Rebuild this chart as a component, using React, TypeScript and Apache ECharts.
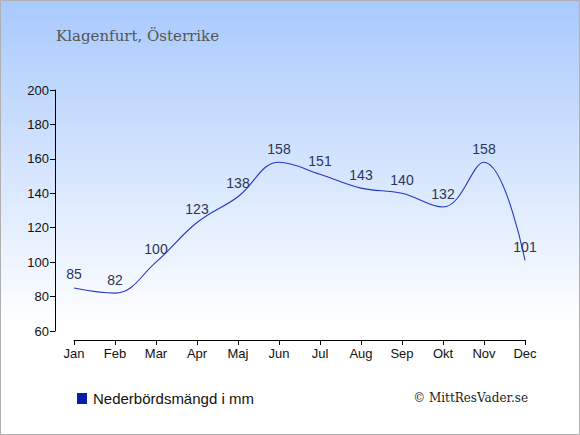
import React, { useEffect, useRef } from "react";
import * as echarts from "echarts";

const months = ["Jan", "Feb", "Mar", "Apr", "Maj", "Jun", "Jul", "Aug", "Sep", "Okt", "Nov", "Dec"];
const precipitation = [85, 82, 100, 123, 138, 158, 151, 143, 140, 132, 158, 101];
const yTicks = { min: 60, max: 200, interval: 20 };
const titleText = "Klagenfurt, Österrike";
const legendText = "Nederbördsmängd i mm";
const creditText = "© MittResVader.se";

export default function App() {
  const ref = useRef<HTMLDivElement>(null);
  useEffect(() => {
    document.body.style.margin = "0";
    const chart = echarts.init(ref.current!, null, { renderer: "svg" });
    chart.setOption({
      animation: false,
      backgroundColor: {
        type: "linear",
        x: 0, y: 0, x2: 0, y2: 1,
        colorStops: [
          { offset: 0, color: "#a8c9fd" },
          { offset: 0.75, color: "#ffffff" },
          { offset: 1, color: "#ffffff" },
        ],
      },
      title: {
        text: titleText,
        left: 51,
        top: 23,
        textStyle: { fontFamily: "'DejaVu Serif', serif", fontSize: 15, fontWeight: "normal", color: "#555555" },
      },
      grid: { left: 74, right: 55, top: 90, bottom: 104 },
      xAxis: {
        type: "category",
        data: months,
        boundaryGap: false,
        offset: 9,
        axisLine: { lineStyle: { color: "#000", width: 1 } },
        axisTick: { show: true, alignWithLabel: true, length: 5, lineStyle: { color: "#000" } },
        axisLabel: { color: "#111", fontSize: 13, fontFamily: "'Liberation Sans', Arial, sans-serif", margin: 7 },
        splitLine: { show: false },
      },
      yAxis: {
        type: "value",
        min: yTicks.min,
        max: yTicks.max,
        interval: yTicks.interval,
        offset: 19,
        axisLine: { show: true, lineStyle: { color: "#000", width: 1 } },
        axisTick: { show: true, length: 5, lineStyle: { color: "#000" } },
        axisLabel: { color: "#111", fontSize: 13, fontFamily: "'Liberation Sans', Arial, sans-serif", margin: 6 },
        splitLine: { show: false },
      },
      legend: { show: false },
      series: [
        {
          type: "line",
          name: legendText,
          data: precipitation,
          smooth: 0.4,
          symbol: "circle",
          symbolSize: 1,
          showSymbol: true,
          itemStyle: { color: "rgba(0,0,0,0)" },
          lineStyle: { color: "#2536c0", width: 1.1 },
          label: {
            show: true,
            position: "top",
            distance: 6,
            color: "#2a3656",
            fontSize: 14,
            fontFamily: "'Liberation Sans', Arial, sans-serif",
          },
        },
      ],
      graphic: [
        {
          type: "rect",
          shape: { x: 0.5, y: 0.5, width: 579, height: 434 },
          style: { fill: "none", stroke: "#b0b0b0", lineWidth: 1 },
          silent: true,
        },
        {
          type: "rect",
          shape: { x: 77, y: 393, width: 10, height: 11 },
          style: { fill: "#0a1eaa" },
        },
        {
          type: "text",
          x: 93,
          y: 398,
          style: {
            text: legendText,
            fill: "#111",
            fontSize: 15,
            fontFamily: "'Liberation Sans', Arial, sans-serif",
            verticalAlign: "middle",
          },
        },
        {
          type: "text",
          x: 528,
          y: 398,
          style: {
            text: creditText,
            fill: "#222",
            fontSize: 12,
            fontFamily: "'DejaVu Serif', serif",
            align: "right",
            verticalAlign: "middle",
          },
        },
      ],
    });
    return () => chart.dispose();
  }, []);
  return <div ref={ref} style={{ width: 580, height: 435 }} />;
}
